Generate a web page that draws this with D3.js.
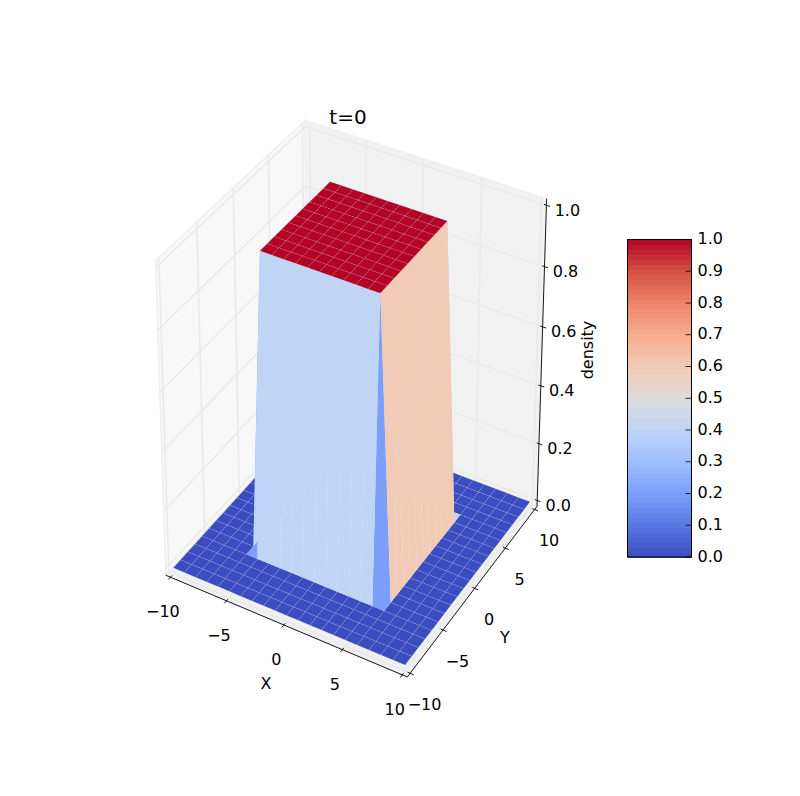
<!DOCTYPE html>
<html><head><meta charset="utf-8">
<script src="https://cdn.jsdelivr.net/npm/d3@7"></script>
<style>html,body{margin:0;padding:0;background:#fff}svg{display:block}text{font-family:"DejaVu Sans";fill:#000}</style>
</head><body><svg id="c" width="800" height="796"></svg>
<script>
const chartTitle = "t=0";
const xTicks = [-10,-5,0,5,10];
const yTicks = [-10,-5,0,5,10];
const zTicks = [0,0.2,0.4,0.6,0.8,1.0];
const cbTicks = [0,0.1,0.2,0.3,0.4,0.5,0.6,0.7,0.8,0.9,1.0];
const gridCoords = [-10,-9,-8,-7,-6,-5,-4,-3,-2,-1,0,1,2,3,4,5,6,7,8,9,10];
const densityRows = [
"000000000000000000000","000000000000000000000","000000000000000000000",
"000000000000000000000","000000000000000000000",
"000001111111111100000","000001111111111100000","000001111111111100000",
"000001111111111100000","000001111111111100000","000001111111111100000",
"000001111111111100000","000001111111111100000","000001111111111100000",
"000001111111111100000","000001111111111100000",
"000000000000000000000","000000000000000000000","000000000000000000000",
"000000000000000000000","000000000000000000000"];
// colour level of each drawn cell, tenths ('A' = 1.0); rows run along Y, columns along X
const faceLevelRows = [
"00000000000000000000","00000000000000000000","00000000000000000000","00000000000000000000",
"00002444444444420000",
"00004AAAAAAAAAA60000","00004AAAAAAAAAA60000","00004AAAAAAAAAA60000","00004AAAAAAAAAA60000","00004AAAAAAAAAA60000",
"00004AAAAAAAAAA60000","00004AAAAAAAAAA60000","00004AAAAAAAAAA60000","00004AAAAAAAAAA60000","00004AAAAAAAAAA60000",
"00004444444444440000",
"00000000000000000000","00000000000000000000","00000000000000000000","00000000000000000000"];
const coolwarmStops = ["#3b4cc0","#5977e3","#7b9ff9","#9ebeff","#c0d4f5","#dddcdc","#f2cbb7","#f7ac8e","#ee8468","#d65244","#b40426"];

const svg = d3.select("#c");
const color = d3.scaleLinear().domain(coolwarmStops.map((_,i)=>i/10)).range(coolwarmStops).interpolate(d3.interpolateRgb);

// mplot3d view, elev 30 azim -60, distance 10
const nx = d3.scaleLinear().domain([-10,10]).range([0,1]);
const ny = d3.scaleLinear().domain([-10,10]).range([0,1]);
const nz = d3.scaleLinear().domain([0,1]).range([0,1]);
const el = 30*Math.PI/180, az = -60*Math.PI/180, dist = 10;
const n = [Math.cos(az)*Math.cos(el), Math.sin(az)*Math.cos(el), Math.sin(el)];
const u = [-n[1], n[0], 0].map(v=>v/Math.hypot(n[0],n[1]));
const v3 = [n[1]*u[2]-n[2]*u[1], n[2]*u[0]-n[0]*u[2], n[0]*u[1]-n[1]*u[0]];
const dot=(a,b)=>a[0]*b[0]+a[1]*b[1]+a[2]*b[2];
const px = d3.scaleLinear().domain([0,1]).range([354.4,354.4+2676]);
const py = d3.scaleLinear().domain([0,1]).range([388.8,388.8-3445]);
function view(x,y,z){
  const p=[nx(x)-.5,ny(y)-.5,nz(z)-.5];
  const w=dist-dot(n,p);
  return {x:dot(u,p)/w, y:dot(v3,p)/w, w};
}
function P(x,y,z){const q=view(x,y,z);return [px(q.x),py(q.y)];}
const path = pts => "M"+pts.map(p=>p[0].toFixed(2)+","+p[1].toFixed(2)).join("L")+"Z";
const line = pts => "M"+pts.map(p=>p[0].toFixed(2)+","+p[1].toFixed(2)).join("L");

const dx=20/48, dz=1/48;
const x0=-10-dx,x1=10+dx,y0=-10-dx,y1=10+dx,z0=-dz,z1=1+dz;

// panes
const panes=[
 {c:"#f8f8f8",p:[[x0,y0,z0],[x0,y1,z0],[x0,y1,z1],[x0,y0,z1]]},
 {c:"#f1f1f1",p:[[x0,y1,z0],[x1,y1,z0],[x1,y1,z1],[x0,y1,z1]]},
 {c:"#f0f0f0",p:[[x0,y0,z0],[x1,y0,z0],[x1,y1,z0],[x0,y1,z0]]}];
svg.append("g").selectAll("path").data(panes).join("path")
 .attr("d",d=>path(d.p.map(q=>P(...q)))).attr("fill",d=>d.c).attr("stroke","#efefef").attr("stroke-width",1.5);

// grid lines
const gridLines=[];
xTicks.forEach(t=>gridLines.push([[t,y0,z0],[t,y1,z0],[t,y1,z1]]));
yTicks.forEach(t=>gridLines.push([[x1,t,z0],[x0,t,z0],[x0,t,z1]]));
zTicks.forEach(t=>gridLines.push([[x1,y1,t],[x0,y1,t],[x0,y0,t]]));
svg.append("g").selectAll("path").data(gridLines).join("path")
 .attr("d",d=>line(d.map(q=>P(...q)))).attr("fill","none").attr("stroke","#e9e9e9").attr("stroke-width",1.5);

// axis lines and ticks
const axisG=svg.append("g").attr("fill","none").attr("stroke","#000").attr("stroke-width",0.9);
[[[x0,y0,z0],[x1,y0,z0]],[[x1,y0,z0],[x1,y1,z0]],[[x1,y1,z0],[x1,y1,z1]]].forEach(s=>
 axisG.append("path").attr("d",line(s.map(q=>P(...q)))));
const tOut=0.3,tIn=0.2;
xTicks.forEach(t=>axisG.append("path").attr("d",line([P(t,y0-tOut,z0),P(t,y0+tIn,z0)])));
yTicks.forEach(t=>axisG.append("path").attr("d",line([P(x1-tIn,t,z0),P(x1+tOut,t,z0)])));
zTicks.forEach(t=>axisG.append("path").attr("d",line([P(x1-tIn,y1,t),P(x1+tOut,y1,t)])));

// surface cells
const cells=[];
for(let j=0;j<gridCoords.length-1;j++)for(let i=0;i<gridCoords.length-1;i++){
  const corner=(ii,jj)=>[gridCoords[ii],gridCoords[jj],+densityRows[jj][ii]];
  const pts=[corner(i,j),corner(i+1,j),corner(i+1,j+1),corner(i,j+1)];
  const ch=faceLevelRows[j][i];
  const level=ch==="A"?1:+ch/10;
  const depth=d3.mean(pts,q=>view(...q).w);
  cells.push({pts,level,depth});
}
cells.sort((p,q)=>q.depth-p.depth);
const flat=d=>d.level===0||d.level===1;
svg.append("g").selectAll("path").data(cells).join("path")
 .attr("d",d=>path(d.pts.map(q=>P(...q)))).attr("fill",d=>color(d.level))
 .attr("stroke",d=>flat(d)?"#fff":"none").attr("stroke-opacity",0.2).attr("stroke-width",0.7).attr("stroke-dasharray",d=>flat(d)?"2.5 1":null);

// labels
const fs=16;
const txt=(x,y,s,o={})=>svg.append("text").attr("x",x).attr("y",y).attr("font-size",o.size||fs)
  .attr("text-anchor",o.anchor||"middle").attr("dominant-baseline","central").attr("transform",o.rot?`rotate(${o.rot} ${x} ${y})`:null).text(s);
const fmt=t=>(t<0?"\u2212":"")+Math.abs(t);
xTicks.forEach(t=>{const p=P(t,y0,z0);txt(p[0]-7.5,p[1]+34.5,fmt(t));});
yTicks.forEach(t=>{const p=P(x1,t,z0);txt(p[0]+14.5,p[1]+31,fmt(t));});
zTicks.forEach(t=>{const p=P(x1,y1,t);txt(p[0]+21,p[1]+5,t.toFixed(1));});
txt(266,683,"X");
txt(505,637,"Y");
txt(587,350,"density",{rot:-90});
txt(348,117,chartTitle,{size:20});

// colorbar
const cbX=d3.scaleLinear().domain([0,1]).range([627.5,691.5]);
const cbY=d3.scaleLinear().domain([0,1]).range([557,239.5]);
const bands=d3.range(64).map(i=>i/64);
svg.append("g").attr("shape-rendering","crispEdges").selectAll("rect").data(bands).join("rect")
 .attr("x",cbX(0)).attr("width",cbX(1)-cbX(0))
 .attr("y",d=>cbY(d+1/64)).attr("height",d=>cbY(d)-cbY(d+1/64)+0.5)
 .attr("fill",d=>color(d+1/128));
svg.append("rect").attr("x",cbX(0)).attr("y",cbY(1)).attr("width",cbX(1)-cbX(0)).attr("height",cbY(0)-cbY(1))
 .attr("fill","none").attr("stroke","#000").attr("stroke-width",1);
const cbAxis=svg.append("g");
cbTicks.forEach(t=>{
  cbAxis.append("line").attr("x1",cbX(1)-6).attr("x2",cbX(1)).attr("y1",cbY(t)).attr("y2",cbY(t)).attr("stroke","#000").attr("stroke-width",0.8);
  svg.append("text").attr("x",cbX(1)+6).attr("y",cbY(t)-1).attr("font-size",fs).attr("dominant-baseline","central").text(t.toFixed(1));
});
</script></body></html>
